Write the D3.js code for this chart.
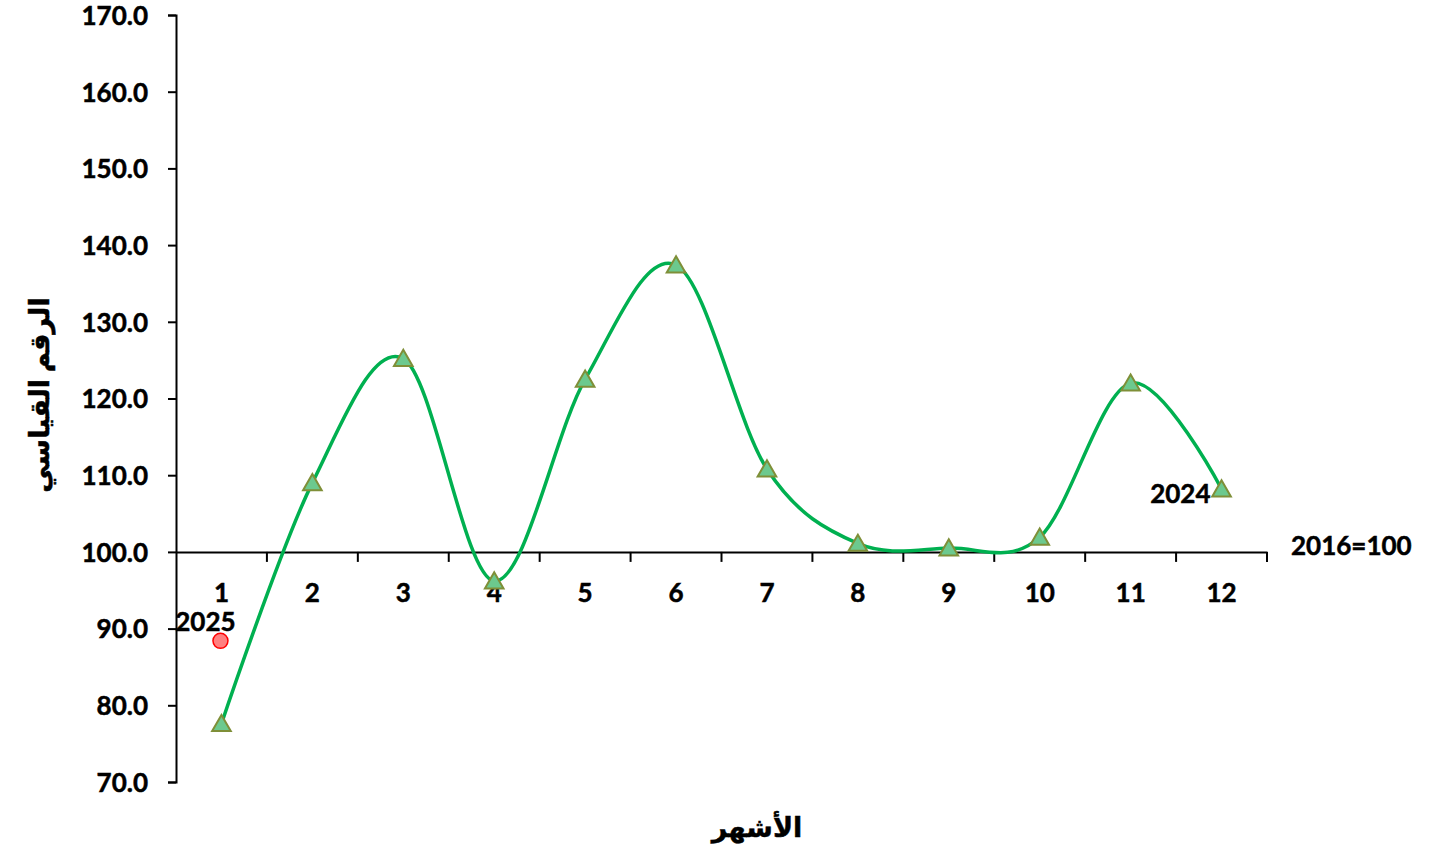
<!DOCTYPE html>
<html>
<head>
<meta charset="utf-8">
<script src="https://cdn.jsdelivr.net/npm/d3@7"></script>
<style>
  body { margin: 0; background: #fff; }
  text { font-family: Lato, "DejaVu Sans", sans-serif; font-weight: bold; fill: #000; stroke: #000; stroke-width: 0.5px; }
</style>
</head>
<body>
<div id="chart"></div>
<script>
var width = 1440,
    height = 852;

// data
var months = [1, 2, 3, 4, 5, 6, 7, 8, 9, 10, 11, 12];
var values2024 = [77.6, 109.0, 125.2, 96.2, 122.5, 137.4, 110.8, 101.1, 100.5, 101.9, 122.0, 108.2];
var values2025 = [88.4];
var yTicks = [70, 80, 90, 100, 110, 120, 130, 140, 150, 160, 170];

var svg = d3.select("#chart").append("svg")
    .attr("width", width)
    .attr("height", height);

var x = d3.scaleBand()
    .domain(months)
    .range([176, 1267]);

var y = d3.scaleLinear()
    .domain([70, 170])
    .range([782, 15]);

// y axis
var yAxis = svg.append("g")
    .attr("transform", "translate(" + x.range()[0] + ",0)")
    .call(d3.axisLeft(y).tickValues(yTicks).tickSize(8).tickPadding(20).tickFormat(d3.format(".1f")));
yAxis.select(".domain").attr("stroke", "#000").attr("stroke-width", 2);
yAxis.selectAll(".tick line").attr("stroke", "#000").attr("stroke-width", 2);
yAxis.selectAll(".tick text")
    .style("font-size", "26px")
    .attr("dy", "0.36em");

// x axis crossing at 100
var xAxis = svg.append("g")
    .attr("transform", "translate(0," + y(100) + ")")
    .call(d3.axisBottom(x).tickSize(0).tickPadding(32));
xAxis.select(".domain").attr("stroke", "#000").attr("stroke-width", 2);
xAxis.selectAll(".tick text").style("font-size", "26px");

// tick marks between categories
var bounds = months.map(function (m) { return x(m) + x.bandwidth(); });
xAxis.selectAll(".cat-tick")
    .data(bounds)
    .join("line")
    .attr("class", "cat-tick")
    .attr("x1", function (d) { return d; })
    .attr("x2", function (d) { return d; })
    .attr("y1", 0)
    .attr("y2", 10)
    .attr("stroke", "#000")
    .attr("stroke-width", 2);

// smoothed 2024 line
var line = d3.line()
    .x(function (d, i) { return x(months[i]) + x.bandwidth() / 2; })
    .y(function (d) { return y(d); })
    .curve(d3.curveCardinal.tension(0));

svg.append("path")
    .datum(values2024)
    .attr("d", line)
    .attr("fill", "none")
    .attr("stroke", "#00b050")
    .attr("stroke-width", 3.5);

// triangle markers
var tri = d3.symbol().type(d3.symbolTriangle).size(150);
svg.selectAll(".marker")
    .data(values2024)
    .join("path")
    .attr("class", "marker")
    .attr("d", tri)
    .attr("transform", function (d, i) {
        return "translate(" + (x(months[i]) + x.bandwidth() / 2) + "," + (y(d) + 2) + ")";
    })
    .attr("fill", "#6cc98e")
    .attr("stroke", "#7f8f38")
    .attr("stroke-width", 2);

// 2025 point
svg.selectAll(".dot")
    .data(values2025)
    .join("circle")
    .attr("class", "dot")
    .attr("cx", function (d, i) { return x(months[i]) + x.bandwidth() / 2 - 1; })
    .attr("cy", function (d) { return y(d); })
    .attr("r", 7.5)
    .attr("fill", "#ff8080")
    .attr("stroke", "#ff0000")
    .attr("stroke-width", 1.5);

// labels
svg.append("text")
    .attr("x", x(1) + x.bandwidth() / 2 - 16)
    .attr("y", y(values2025[0]) - 19)
    .attr("dy", "0.35em")
    .attr("text-anchor", "middle")
    .style("font-size", "26px")
    .text("2025");

svg.append("text")
    .attr("x", x(12) + x.bandwidth() / 2 - 11)
    .attr("y", y(values2024[11]) + 5)
    .attr("dy", "0.35em")
    .attr("text-anchor", "end")
    .style("font-size", "26px")
    .text("2024");

svg.append("text")
    .attr("x", 1291)
    .attr("y", 546)
    .attr("dy", "0.35em")
    .style("font-size", "26px")
    .text("2016=100");

svg.append("text")
    .attr("transform", "translate(40,395) rotate(-90)")
    .attr("text-anchor", "middle")
    .attr("dy", "0.35em")
    .style("font-size", "27px")
    .text("الرقم القياسي");

svg.append("text")
    .attr("x", 757)
    .attr("y", 828)
    .attr("text-anchor", "middle")
    .attr("dy", "0.35em")
    .style("font-size", "27px")
    .text("الأشهر");
</script>
</body>
</html>
